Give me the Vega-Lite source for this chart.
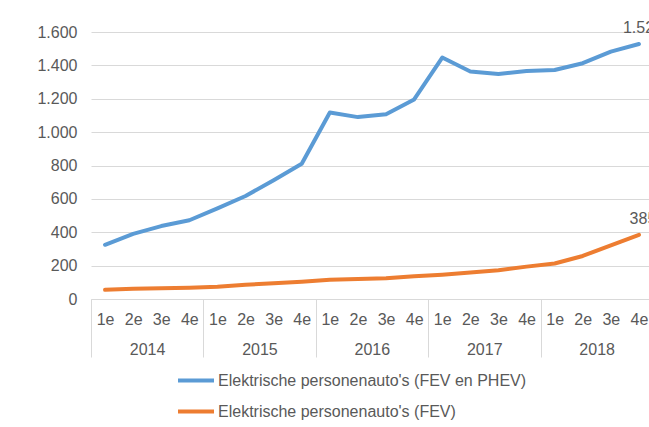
{
  "$schema": "https://vega.github.io/schema/vega-lite/v6.json",
  "width": 562,
  "height": 267,
  "autosize": {"type": "none"},
  "padding": {"left": 91, "top": 32, "right": -4, "bottom": 128},
  "config": {
    "locale": {"number": {"decimal": ",", "thousands": ".", "grouping": [3], "currency": ["€ ", ""]}},
    "view": {"stroke": null},
    "font": "Liberation Sans",
    "background": "#ffffff"
  },
  "data": {
    "values": [
      {"kwartaal": "2014 1e", "serie": "Elektrische personenauto's (FEV en PHEV)", "waarde": 325},
      {"kwartaal": "2014 2e", "serie": "Elektrische personenauto's (FEV en PHEV)", "waarde": 390},
      {"kwartaal": "2014 3e", "serie": "Elektrische personenauto's (FEV en PHEV)", "waarde": 437},
      {"kwartaal": "2014 4e", "serie": "Elektrische personenauto's (FEV en PHEV)", "waarde": 472},
      {"kwartaal": "2015 1e", "serie": "Elektrische personenauto's (FEV en PHEV)", "waarde": 543},
      {"kwartaal": "2015 2e", "serie": "Elektrische personenauto's (FEV en PHEV)", "waarde": 617},
      {"kwartaal": "2015 3e", "serie": "Elektrische personenauto's (FEV en PHEV)", "waarde": 712},
      {"kwartaal": "2015 4e", "serie": "Elektrische personenauto's (FEV en PHEV)", "waarde": 810},
      {"kwartaal": "2016 1e", "serie": "Elektrische personenauto's (FEV en PHEV)", "waarde": 1118},
      {"kwartaal": "2016 2e", "serie": "Elektrische personenauto's (FEV en PHEV)", "waarde": 1090},
      {"kwartaal": "2016 3e", "serie": "Elektrische personenauto's (FEV en PHEV)", "waarde": 1107},
      {"kwartaal": "2016 4e", "serie": "Elektrische personenauto's (FEV en PHEV)", "waarde": 1196},
      {"kwartaal": "2017 1e", "serie": "Elektrische personenauto's (FEV en PHEV)", "waarde": 1447},
      {"kwartaal": "2017 2e", "serie": "Elektrische personenauto's (FEV en PHEV)", "waarde": 1363},
      {"kwartaal": "2017 3e", "serie": "Elektrische personenauto's (FEV en PHEV)", "waarde": 1349},
      {"kwartaal": "2017 4e", "serie": "Elektrische personenauto's (FEV en PHEV)", "waarde": 1366},
      {"kwartaal": "2018 1e", "serie": "Elektrische personenauto's (FEV en PHEV)", "waarde": 1372},
      {"kwartaal": "2018 2e", "serie": "Elektrische personenauto's (FEV en PHEV)", "waarde": 1413},
      {"kwartaal": "2018 3e", "serie": "Elektrische personenauto's (FEV en PHEV)", "waarde": 1482},
      {"kwartaal": "2018 4e", "serie": "Elektrische personenauto's (FEV en PHEV)", "waarde": 1528},
      {"kwartaal": "2014 1e", "serie": "Elektrische personenauto's (FEV)", "waarde": 55},
      {"kwartaal": "2014 2e", "serie": "Elektrische personenauto's (FEV)", "waarde": 61},
      {"kwartaal": "2014 3e", "serie": "Elektrische personenauto's (FEV)", "waarde": 65},
      {"kwartaal": "2014 4e", "serie": "Elektrische personenauto's (FEV)", "waarde": 68},
      {"kwartaal": "2015 1e", "serie": "Elektrische personenauto's (FEV)", "waarde": 73},
      {"kwartaal": "2015 2e", "serie": "Elektrische personenauto's (FEV)", "waarde": 85},
      {"kwartaal": "2015 3e", "serie": "Elektrische personenauto's (FEV)", "waarde": 95},
      {"kwartaal": "2015 4e", "serie": "Elektrische personenauto's (FEV)", "waarde": 104},
      {"kwartaal": "2016 1e", "serie": "Elektrische personenauto's (FEV)", "waarde": 115},
      {"kwartaal": "2016 2e", "serie": "Elektrische personenauto's (FEV)", "waarde": 120},
      {"kwartaal": "2016 3e", "serie": "Elektrische personenauto's (FEV)", "waarde": 124},
      {"kwartaal": "2016 4e", "serie": "Elektrische personenauto's (FEV)", "waarde": 136},
      {"kwartaal": "2017 1e", "serie": "Elektrische personenauto's (FEV)", "waarde": 146},
      {"kwartaal": "2017 2e", "serie": "Elektrische personenauto's (FEV)", "waarde": 159},
      {"kwartaal": "2017 3e", "serie": "Elektrische personenauto's (FEV)", "waarde": 172},
      {"kwartaal": "2017 4e", "serie": "Elektrische personenauto's (FEV)", "waarde": 194},
      {"kwartaal": "2018 1e", "serie": "Elektrische personenauto's (FEV)", "waarde": 213},
      {"kwartaal": "2018 2e", "serie": "Elektrische personenauto's (FEV)", "waarde": 258},
      {"kwartaal": "2018 3e", "serie": "Elektrische personenauto's (FEV)", "waarde": 322},
      {"kwartaal": "2018 4e", "serie": "Elektrische personenauto's (FEV)", "waarde": 385}
    ]
  },
  "encoding": {
    "y": {
      "field": "waarde",
      "type": "quantitative",
      "scale": {"domain": [0, 1600], "nice": false},
      "axis": {
        "title": null,
        "values": [0, 200, 400, 600, 800, 1000, 1200, 1400, 1600],
        "format": ",d",
        "grid": true,
        "gridColor": "#d9d9d9",
        "gridWidth": 1,
        "domain": false,
        "ticks": false,
        "labelPadding": 14,
        "labelFontSize": 16,
        "labelColor": "#595959"
      }
    }
  },
  "layer": [
    {
      "mark": {"type": "line", "strokeWidth": 4, "strokeJoin": "round", "strokeCap": "round"},
      "encoding": {
        "x": {
          "field": "kwartaal",
          "type": "ordinal",
          "scale": {"paddingInner": 0, "paddingOuter": 0},
          "axis": {
            "orient": "bottom",
            "title": null,
            "ticks": false,
            "tickSize": 0,
            "domain": true,
            "domainColor": "#d9d9d9",
            "domainWidth": 1,
            "grid": false,
            "labelExpr": "split(datum.value, ' ')[1]",
            "labelAngle": 0,
            "labelPadding": 12,
            "labelFontSize": 16,
            "labelColor": "#595959",
            "labelOverlap": false
          }
        },
        "color": {
          "field": "serie",
          "type": "nominal",
          "scale": {
            "domain": ["Elektrische personenauto's (FEV en PHEV)", "Elektrische personenauto's (FEV)"],
            "range": ["#5b9bd5", "#ed7d31"]
          },
          "legend": {
            "title": null,
            "orient": "none",
            "legendX": 85,
            "legendY": 341,
            "direction": "vertical",
            "padding": 0,
            "symbolType": "stroke",
            "symbolSize": 1296,
            "symbolStrokeWidth": 4,
            "clipHeight": 15,
            "rowPadding": 14,
            "labelOffset": 2,
            "labelFontSize": 16,
            "labelColor": "#595959",
            "labelLimit": 500
          }
        }
      }
    },
    {
      "transform": [{"filter": "datum.kwartaal == '2018 4e'"}],
      "mark": {"type": "text", "dy": -16, "dx": 4, "fontSize": 16, "color": "#595959", "baseline": "middle", "align": "center"},
      "encoding": {
        "x": {
          "field": "kwartaal",
          "type": "ordinal",
          "axis": {
            "orient": "bottom",
            "title": null,
            "domain": false,
            "grid": false,
            "values": ["2014 1e", "2015 1e", "2016 1e", "2017 1e", "2018 1e"],
            "tickOffset": -14,
            "ticks": true,
            "tickSize": 58,
            "tickColor": "#d9d9d9",
            "tickWidth": 1,
            "labelExpr": "datum.value ? split(datum.value, ' ')[0] : ''",
            "labelOffset": 56,
            "labelPadding": -16,
            "labelAngle": 0,
            "labelFontSize": 16,
            "labelColor": "#595959",
            "labelOverlap": false
          }
        },
        "text": {"field": "waarde", "type": "quantitative", "format": ",d"}
      }
    }
  ],
  "resolve": {"axis": {"x": "independent"}}
}
